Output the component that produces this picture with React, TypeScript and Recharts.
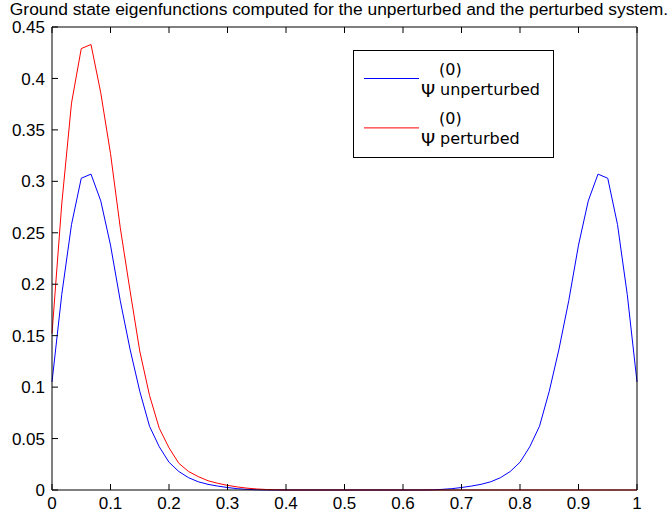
import { Line, LineChart, XAxis, YAxis } from 'recharts';

// samples on a uniform grid x = k / 60, k = 0..60
const STEPS = 60;

const unperturbed = [
  0.105, 0.19, 0.258, 0.303, 0.307, 0.281, 0.238, 0.184, 0.137, 0.096,
  0.062, 0.042, 0.027, 0.018, 0.012, 0.008, 0.0055, 0.0038, 0.0024, 0.0013,
  0.0006, 0.0002, 0, 0, 0, 0, 0, 0, 0, 0,
  0, 0, 0, 0, 0, 0, 0, 0, 0, 0.0002,
  0.0006, 0.0013, 0.0024, 0.0038, 0.0055, 0.008, 0.012, 0.018, 0.027, 0.042,
  0.062, 0.096, 0.137, 0.184, 0.238, 0.281, 0.307, 0.303, 0.258, 0.19,
  0.105,
];

const perturbed = [
  0.152, 0.278, 0.376, 0.429, 0.433, 0.386, 0.327, 0.255, 0.194, 0.135,
  0.092, 0.06, 0.041, 0.026, 0.018, 0.013, 0.009, 0.0065, 0.0045, 0.003,
  0.0018, 0.001, 0.0005, 0.0002, 0, 0, 0, 0, 0, 0,
  0, 0, 0, 0, 0, 0, 0, 0, 0, 0,
  0, 0, 0, 0, 0, 0, 0, 0, 0, 0,
  0, 0, 0, 0, 0, 0, 0, 0, 0, 0,
  0,
];

const xTicks = [0, 0.1, 0.2, 0.3, 0.4, 0.5, 0.6, 0.7, 0.8, 0.9, 1];
const xTickLabels = ['0', '0.1', '0.2', '0.3', '0.4', '0.5', '0.6', '0.7', '0.8', '0.9', '1'];
const yTicks = [0, 0.05, 0.1, 0.15, 0.2, 0.25, 0.3, 0.35, 0.4, 0.45];
const yTickLabels = ['0', '0.05', '0.1', '0.15', '0.2', '0.25', '0.3', '0.35', '0.4', '0.45'];

const title = 'Ground state eigenfunctions computed for the unperturbed and the perturbed system.';
const legendItems = [
  { name: 'unperturbed', color: '#0000ff' },
  { name: 'perturbed', color: '#ff0000' },
];

const data = unperturbed.map((u, i) => ({ x: i / STEPS, u, p: perturbed[i] }));

const FONT = '"Liberation Sans", Arial, Helvetica, sans-serif';
const TEX_FONT = '"DejaVu Sans", sans-serif';
const TICK = 6;

type TickProps = { x?: number; y?: number; index?: number };

function BottomTick({ x = 0, y = 0, index = 0 }: TickProps) {
  return (
    <g>
      <line x1={x} x2={x} y1={y} y2={y - TICK} stroke="#000" />
      <text x={x} y={y + 19} textAnchor="middle" fontSize={17} fontFamily={FONT} fill="#000">
        {xTickLabels[index]}
      </text>
    </g>
  );
}

function TopTick({ x = 0, y = 0 }: TickProps) {
  return <line x1={x} x2={x} y1={y} y2={y + TICK} stroke="#000" />;
}

function LeftTick({ x = 0, y = 0, index = 0 }: TickProps) {
  return (
    <g>
      <line x1={x} x2={x + TICK} y1={y} y2={y} stroke="#000" />
      <text x={x - 7} y={y} dy="0.36em" textAnchor="end" fontSize={17} fontFamily={FONT} fill="#000">
        {yTickLabels[index]}
      </text>
    </g>
  );
}

function RightTick({ x = 0, y = 0 }: TickProps) {
  return <line x1={x} x2={x - TICK} y1={y} y2={y} stroke="#000" />;
}

function Overlay() {
  return (
    <svg
      width={672}
      height={519}
      style={{ position: 'absolute', left: 0, top: 0, pointerEvents: 'none' }}
    >
      <text x={339} y={15} textAnchor="middle" fontSize={17.4} fontFamily={FONT} fill="#000">
        {title}
      </text>
      <rect x={353.5} y={50.5} width={200} height={107} fill="#fff" stroke="#000" />
      {legendItems.map((item, r) => {
        const dy = r * 49.4;
        return (
          <g key={item.name} fontFamily={TEX_FONT} fill="#000">
            <line x1={364} x2={419} y1={78.5 + dy} y2={78.5 + dy} stroke={item.color} />
            <text x={421} y={97 + dy} fontSize={18}>Ψ</text>
            <text x={439} y={75 + dy} fontSize={16}>(0)</text>
            <text x={440} y={95 + dy} fontSize={16}>{item.name}</text>
          </g>
        );
      })}
    </svg>
  );
}

export default function App() {
  return (
    <div style={{ position: 'relative', width: 672, height: 519, background: '#fff' }}>
      <style>{'body{margin:0;background:#fff}'}</style>
      <LineChart
        width={672}
        height={519}
        data={data}
        margin={{ top: 26, right: 34, bottom: 28, left: 51 }}
      >
        <XAxis
          xAxisId="b"
          type="number"
          dataKey="x"
          domain={[0, 1]}
          ticks={xTicks}
          interval={0}
          height={1}
          tickSize={0}
          tickMargin={0}
          tickLine={false}
          axisLine={{ stroke: '#000' }}
          tick={<BottomTick />}
        />
        <XAxis
          xAxisId="t"
          orientation="top"
          type="number"
          dataKey="x"
          domain={[0, 1]}
          ticks={xTicks}
          interval={0}
          height={1}
          tickSize={0}
          tickMargin={0}
          tickLine={false}
          axisLine={{ stroke: '#000' }}
          tick={<TopTick />}
        />
        <YAxis
          yAxisId="l"
          type="number"
          domain={[0, 0.45]}
          ticks={yTicks}
          interval={0}
          width={1}
          tickSize={0}
          tickMargin={0}
          tickLine={false}
          axisLine={{ stroke: '#000' }}
          tick={<LeftTick />}
        />
        <YAxis
          yAxisId="r"
          orientation="right"
          type="number"
          domain={[0, 0.45]}
          ticks={yTicks}
          interval={0}
          width={1}
          tickSize={0}
          tickMargin={0}
          tickLine={false}
          axisLine={{ stroke: '#000' }}
          tick={<RightTick />}
        />
        <Line
          xAxisId="b"
          yAxisId="l"
          type="linear"
          dataKey="u"
          stroke="#0000ff"
          strokeWidth={1}
          dot={false}
          isAnimationActive={false}
        />
        <Line
          xAxisId="b"
          yAxisId="l"
          type="linear"
          dataKey="p"
          stroke="#ff0000"
          strokeWidth={1}
          dot={false}
          isAnimationActive={false}
        />
      </LineChart>
      <Overlay />
    </div>
  );
}
